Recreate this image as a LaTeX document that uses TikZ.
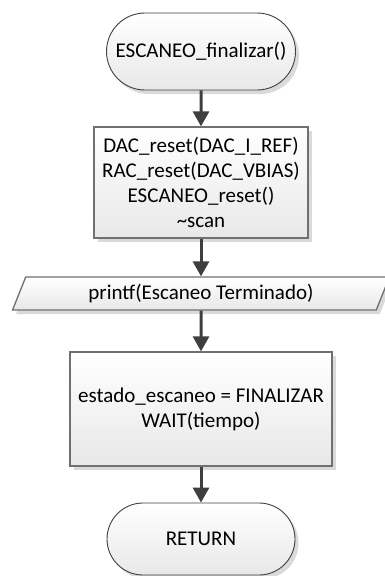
\documentclass[tikz,border=0pt]{standalone}
\usepackage{fontspec}
\setmainfont{Carlito}
\usetikzlibrary{arrows.meta,shapes.misc,shapes.geometric,shadows}
\definecolor{edge}{HTML}{404040}
\definecolor{boxline}{HTML}{707070}
\definecolor{flow}{HTML}{3F3F3F}
\definecolor{shade}{HTML}{DADADA}
\begin{document}
\begin{tikzpicture}[x=1pt,y=-1pt,
  font=\fontsize{21}{25}\selectfont,
  base/.style={top color=white, bottom color=black!9, align=center, inner sep=0pt,
    drop shadow={shadow xshift=3.5pt, shadow yshift=-4pt, fill=shade, opacity=1}},
  term/.style={base, rounded rectangle, draw=edge, line width=0.9pt},
  proc/.style={base, rectangle, draw=boxline, line width=1.3pt},
  io/.style={base, trapezium, trapezium left angle=65.6, trapezium right angle=114.4,
    trapezium stretches=true, draw=boxline, line width=1.3pt},
  flowarrow/.style={draw=flow, line width=3pt, -{Triangle[width=16pt,length=15pt]}}]
  \useasboundingbox (0,0) rectangle (385,576);

  \node[term, minimum width=189pt, minimum height=77pt] (start) at (201,51.5) {ESCANEO\_finalizar()};
  \node[proc, minimum width=214pt, minimum height=111pt] (reset) at (201,182.5)
    {DAC\_reset(DAC\_I\_REF)\\RAC\_reset(DAC\_VBIAS)\\ESCANEO\_reset()\\\textasciitilde scan};
  \node[io, minimum width=378pt, minimum height=33pt] (print) at (201,293.5) {printf(Escaneo Terminado)};
  \node[proc, minimum width=262pt, minimum height=114pt] (state) at (201,409)
    {estado\_escaneo = FINALIZAR\\WAIT(tiempo)};
  \node[term, minimum width=188pt, minimum height=72pt] (ret) at (201,539) {RETURN};

  \draw[flowarrow] (start) -- (reset);
  \draw[flowarrow] (reset) -- (print);
  \draw[flowarrow] (print) -- (state);
  \draw[flowarrow] (state) -- (ret);
\end{tikzpicture}
\end{document}
